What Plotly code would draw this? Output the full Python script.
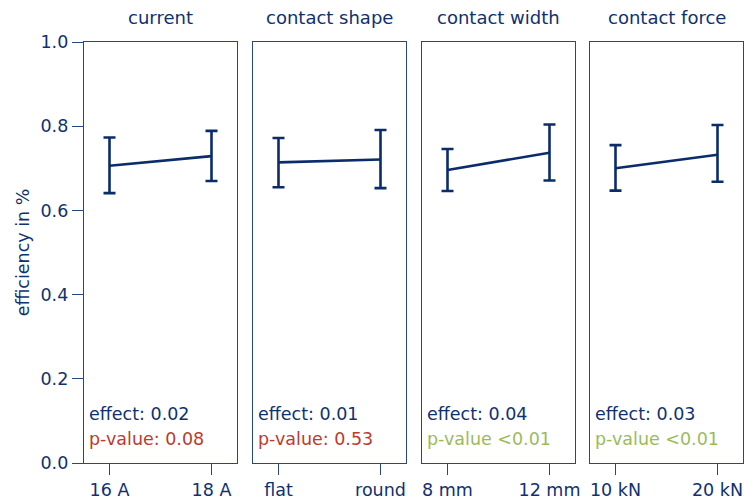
import plotly.graph_objects as go

titles = ["current", "contact shape", "contact width", "contact force"]
levels = [["16 A", "18 A"], ["flat", "round"], ["8 mm", "12 mm"], ["10 kN", "20 kN"]]
means = [[0.706, 0.729], [0.714, 0.721], [0.696, 0.737], [0.700, 0.732]]
upper = [[0.773, 0.789], [0.772, 0.791], [0.746, 0.804], [0.755, 0.803]]
lower = [[0.641, 0.670], [0.655, 0.653], [0.646, 0.671], [0.647, 0.668]]
effects = ["effect: 0.02", "effect: 0.01", "effect: 0.04", "effect: 0.03"]
pvalues = ["p-value: 0.08", "p-value: 0.53", "p-value <0.01", "p-value <0.01"]
pcolors = ["#c0392b", "#c0392b", "#9bbb59", "#9bbb59"]

NAVY = "#0b2c6b"
SPINE = "#27487f"
TXT = "#0f3170"
FONT = "DejaVu Sans"
FS = 17.5

W, H = 745, 504
lefts = [84, 253, 422, 590]
pw = 153
ytop, ybot = 42, 463

fig = go.Figure()
layout = dict(
    width=W, height=H, margin=dict(l=0, r=0, t=0, b=0, autoexpand=False),
    plot_bgcolor="white", paper_bgcolor="white", showlegend=False,
    font=dict(family=FONT, size=FS, color=TXT),
)
annotations = []
for i in range(4):
    sfx = "" if i == 0 else str(i + 1)
    xa, ya = "x" + sfx, "y" + sfx
    m = means[i]
    fig.add_trace(go.Scatter(
        x=levels[i], y=m, mode="lines", xaxis=xa, yaxis=ya,
        line=dict(color=NAVY, width=2.6),
        error_y=dict(type="data", symmetric=False,
                     array=[upper[i][k] - m[k] for k in range(2)],
                     arrayminus=[m[k] - lower[i][k] for k in range(2)],
                     color=NAVY, thickness=2.6, width=6),
    ))
    d0 = lefts[i] / W
    d1 = (lefts[i] + pw) / W
    layout["xaxis" + sfx] = dict(
        domain=[d0, d1], anchor=ya, range=[-0.25, 1.25], type="category",
        showline=True, linecolor=SPINE, linewidth=1.4, mirror=True,
        ticks="outside", ticklen=11, tickwidth=1.4, tickcolor=SPINE,
        showgrid=False, zeroline=False, tickfont=dict(size=FS, color=TXT),
        automargin=False,
    )
    yd = dict(
        domain=[1 - ybot / H, 1 - ytop / H], anchor=xa, range=[0, 1.0],
        showline=True, linecolor=SPINE, linewidth=1.4, mirror=True,
        showgrid=False, zeroline=False, automargin=False,
    )
    if i == 0:
        yd.update(ticks="outside", ticklen=11, tickwidth=1.4, tickcolor=SPINE,
                  tickvals=[0, 0.2, 0.4, 0.6, 0.8, 1.0],
                  ticktext=["0.0", "0.2", "0.4", "0.6", "0.8", "1.0"],
                  tickfont=dict(size=FS, color=TXT),
                  title=dict(text="efficiency in %", font=dict(size=FS, color=TXT), standoff=6))
    else:
        yd.update(showticklabels=False, ticks="")
    layout["yaxis" + sfx] = yd
    annotations.append(dict(
        text=titles[i], xref="x" + sfx + " domain", yref="paper",
        x=0.5, y=1 - 18 / H, xanchor="center", yanchor="middle",
        showarrow=False, font=dict(size=18, color=TXT)))
    annotations.append(dict(
        text=effects[i], xref="x" + sfx + " domain", yref=ya,
        x=0, xshift=3, y=0.116, xanchor="left", yanchor="middle",
        showarrow=False, font=dict(size=FS, color=TXT)))
    annotations.append(dict(
        text=pvalues[i], xref="x" + sfx + " domain", yref=ya,
        x=0, xshift=3, y=0.057, xanchor="left", yanchor="middle",
        showarrow=False, font=dict(size=FS, color=pcolors[i])))

layout["annotations"] = annotations
fig.update_layout(**layout)
fig.write_html("out.html")
